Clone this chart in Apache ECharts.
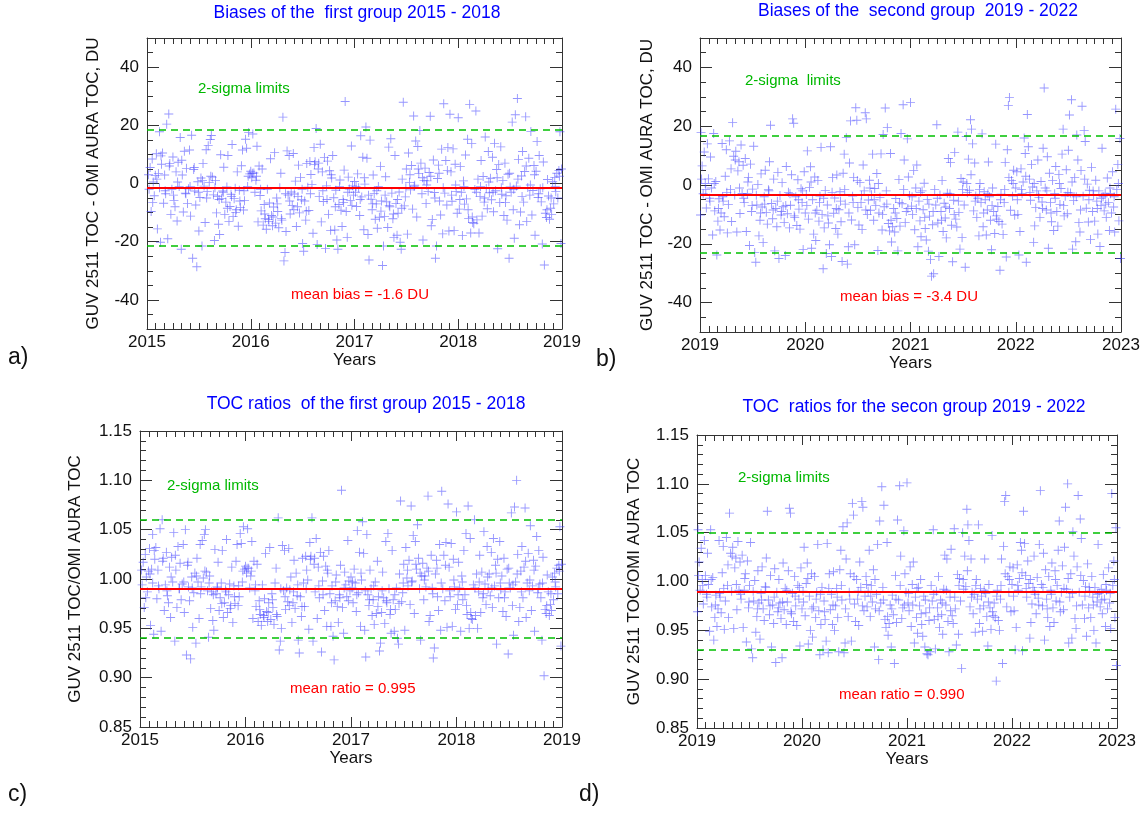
<!DOCTYPE html>
<html>
<head>
<meta charset="utf-8">
<script src="https://cdn.jsdelivr.net/npm/echarts@6/dist/echarts.min.js"></script>
<style>
html,body{margin:0;padding:0;background:#fff;}
#chart{width:1143px;height:814px;}
</style>
</head>
<body>
<div id="chart"></div>
<script>
// ---------- DATA ----------
// Panel a: bias GUV - OMI (DU), first group
const aData = [
[2015.02,-2.0],[2015.03,5.5],[2015.04,-9.6],[2015.05,8.4],[2015.06,0.5],[2015.07,-4.2],[2015.08,2.8],[2015.09,10.2],[2015.10,-15.6],
[2015.11,3.4],[2015.12,17.8],[2015.12,-1.5],[2015.13,-20.2],[2015.14,6.6],[2015.15,10.5],[2015.16,-6.8],[2015.17,2.9],[2015.18,-3.5],[2015.19,20.4],[2015.20,-19.0],
[2015.21,23.9],[2015.22,6.9],[2015.23,-10.6],[2015.24,-2.0],[2015.25,9.1],[2015.26,-5.8],[2015.27,-8.0],[2015.28,4.0],[2015.29,-12.9],[2015.30,7.3],
[2015.31,-1.0],[2015.32,15.8],[2015.33,-22.6],[2015.34,2.9],[2015.35,-9.8],[2015.36,11.1],[2015.37,-3.3],[2015.38,5.2],[2015.39,-6.9],[2015.40,-1.8],
[2015.41,11.5],[2015.42,-11.2],[2015.43,16.6],[2015.44,-25.7],[2015.45,4.8],[2015.46,-2.6],[2015.47,-7.4],[2015.48,-28.6],[2015.49,0.6],[2015.50,-16.3],
[2015.51,-4.8],[2015.52,1.9],[2015.53,-21.5],[2015.54,6.9],[2015.55,-0.9],[2015.56,-13.4],[2015.57,11.6],[2015.58,-2.8],[2015.59,13.0],[2015.60,0.4],
[2015.61,15.1],[2015.62,16.5],[2015.63,2.2],[2015.64,-3.9],[2015.65,-19.6],[2015.66,1.0],[2015.67,-10.1],[2015.68,-4.4],[2015.69,-14.0],[2015.70,-17.5],
[2015.71,9.9],[2015.72,-5.1],[2015.73,-2.6],[2015.74,5.6],[2015.75,-10.6],[2015.76,-6.4],[2015.77,-1.2],[2015.78,9.6],[2015.79,-13.0],[2015.80,-7.9],
[2015.81,-3.7],[2015.82,13.4],[2015.83,-11.3],[2015.84,-5.2],[2015.85,-1.6],[2015.86,-9.0],[2015.87,4.0],[2015.88,-14.7],[2015.89,-2.3],[2015.90,-8.2],
[2015.91,6.1],[2015.92,11.5],[2015.93,-9.1],[2015.94,-5.9],[2015.95,15.2],[2015.96,12.1],[2015.97,-1.0],[2015.98,17.5],[2015.99,3.3],[2016.00,4.2],
[2016.01,2.0],[2016.02,17.0],[2016.03,3.6],[2016.04,-3.0],[2016.05,1.1],[2016.06,12.8],[2016.07,-13.2],[2016.08,6.0],[2016.09,-4.1],[2016.10,-9.4],
[2016.11,5.0],[2016.12,-14.3],[2016.13,-7.2],[2016.14,-12.1],[2016.15,-15.7],[2016.16,-2.0],[2016.17,-12.4],[2016.18,-6.7],[2016.19,8.5],[2016.20,-11.0],
[2016.21,-14.5],[2016.22,-8.1],[2016.23,10.6],[2016.24,-13.6],[2016.25,-5.0],[2016.26,-9.6],[2016.27,-15.2],[2016.28,-1.5],[2016.29,3.5],[2016.30,-12.6],
[2016.31,22.8],[2016.32,-26.6],[2016.33,-23.7],[2016.34,-16.5],[2016.35,11.2],[2016.36,-4.0],[2016.37,9.6],[2016.38,-10.5],[2016.39,-2.9],[2016.40,-7.6],
[2016.41,10.3],[2016.42,-3.6],[2016.43,0.8],[2016.44,-14.8],[2016.45,-8.0],[2016.46,6.3],[2016.47,-10.1],[2016.48,2.1],[2016.49,-5.6],[2016.50,-20.6],
[2016.51,-23.3],[2016.52,-6.0],[2016.53,-12.6],[2016.54,6.9],[2016.55,-1.3],[2016.56,-9.3],[2016.57,7.6],[2016.58,3.1],[2016.59,-0.4],[2016.60,-17.1],
[2016.61,12.4],[2016.62,7.5],[2016.63,18.9],[2016.64,-21.0],[2016.65,5.0],[2016.66,-4.5],[2016.67,13.5],[2016.68,-13.2],[2016.69,4.0],[2016.70,-6.2],
[2016.71,8.9],[2016.72,-22.3],[2016.73,-0.8],[2016.74,7.7],[2016.75,-10.6],[2016.76,4.4],[2016.77,-16.1],[2016.78,1.9],[2016.79,9.6],[2016.80,-4.9],
[2016.81,-16.0],[2016.82,-2.3],[2016.83,-19.4],[2016.84,-22.6],[2016.85,-7.2],[2016.86,1.2],[2016.87,-9.2],[2016.88,-14.8],[2016.89,-5.5],[2016.90,4.6],
[2016.91,28.2],[2016.92,-9.6],[2016.93,-18.5],[2016.94,2.2],[2016.95,-1.9],[2016.96,-5.9],[2016.97,12.9],[2016.98,-0.8],[2016.99,-4.0],[2017.00,0.7],
[2017.01,-3.0],[2017.02,-7.9],[2017.03,3.3],[2017.04,-1.5],[2017.05,-11.0],[2017.06,16.4],[2017.07,-4.6],[2017.08,9.0],[2017.09,-15.9],[2017.10,-0.2],
[2017.11,19.4],[2017.12,8.7],[2017.13,-17.5],[2017.14,-26.3],[2017.15,14.9],[2017.16,-5.4],[2017.17,-9.0],[2017.18,2.9],[2017.19,-3.4],[2017.20,-12.3],
[2017.21,-7.0],[2017.22,-15.4],[2017.23,-1.0],[2017.24,-11.6],[2017.25,5.9],[2017.26,-6.0],[2017.27,-28.2],[2017.28,-21.5],[2017.29,-11.4],[2017.30,2.3],
[2017.31,-6.3],[2017.32,-15.1],[2017.33,12.5],[2017.34,-8.0],[2017.35,15.4],[2017.36,-3.3],[2017.37,-12.1],[2017.38,-18.5],[2017.39,9.6],[2017.40,-6.9],
[2017.41,-17.8],[2017.42,-10.2],[2017.43,-2.9],[2017.44,-20.2],[2017.45,-22.6],[2017.46,1.5],[2017.47,27.9],[2017.48,-7.7],[2017.49,-4.6],[2017.50,5.0],
[2017.51,-17.4],[2017.52,10.5],[2017.53,0.4],[2017.54,-2.2],[2017.55,6.2],[2017.56,-8.8],[2017.57,23.2],[2017.58,-0.6],[2017.59,14.6],[2017.60,-11.5],
[2017.61,12.7],[2017.62,3.4],[2017.63,18.2],[2017.64,7.0],[2017.65,-3.5],[2017.66,-19.4],[2017.67,1.0],[2017.68,5.3],[2017.69,-6.9],[2017.70,0.9],
[2017.71,-2.7],[2017.72,3.8],[2017.73,23.1],[2017.74,-14.5],[2017.75,-12.4],[2017.76,8.1],[2017.77,-3.1],[2017.78,-25.7],[2017.79,-21.5],[2017.80,1.7],
[2017.81,6.3],[2017.82,-6.0],[2017.83,-10.8],[2017.84,11.8],[2017.85,-17.3],[2017.86,27.4],[2017.87,-3.3],[2017.88,7.9],[2017.89,-7.4],[2017.90,12.4],
[2017.91,-16.3],[2017.92,23.8],[2017.93,4.0],[2017.94,-6.1],[2017.95,11.9],[2017.96,-16.2],[2017.97,6.6],[2017.98,-2.8],[2017.99,-10.2],[2018.00,22.6],
[2018.01,-8.8],[2018.02,5.8],[2018.03,-3.0],[2018.04,-17.9],[2018.05,0.9],[2018.06,-7.1],[2018.07,9.8],[2018.08,-5.3],[2018.09,15.2],[2018.10,-12.0],
[2018.11,27.2],[2018.12,-17.0],[2018.13,13.7],[2018.14,-13.4],[2018.15,-13.8],[2018.16,-2.1],[2018.17,24.9],[2018.18,-12.5],[2018.19,1.5],[2018.20,-17.0],
[2018.21,-4.5],[2018.22,7.9],[2018.23,-11.2],[2018.24,2.4],[2018.25,-6.4],[2018.26,16.0],[2018.27,-1.7],[2018.28,-8.7],[2018.29,11.0],[2018.30,-3.2],
[2018.31,1.8],[2018.32,-5.6],[2018.33,9.0],[2018.34,-9.7],[2018.35,13.8],[2018.36,-2.5],[2018.37,4.8],[2018.38,-22.4],[2018.39,6.5],[2018.40,-6.5],
[2018.41,12.6],[2018.42,-3.7],[2018.43,1.0],[2018.44,-11.0],[2018.45,7.0],[2018.46,-4.2],[2018.47,-12.6],[2018.48,3.2],[2018.49,-25.7],[2018.50,-1.2],
[2018.51,-3.0],[2018.52,21.1],[2018.53,-9.0],[2018.54,-18.8],[2018.55,23.6],[2018.56,-0.9],[2018.57,29.2],[2018.58,8.3],[2018.59,-14.2],[2018.60,-9.8],
[2018.61,2.6],[2018.62,11.0],[2018.63,-6.4],[2018.64,4.1],[2018.65,22.9],[2018.66,-13.1],[2018.67,-1.4],[2018.68,8.7],[2018.69,-4.0],[2018.70,17.9],
[2018.71,-10.8],[2018.72,-2.4],[2018.73,6.2],[2018.74,-17.8],[2018.75,4.2],[2018.76,14.4],[2018.77,-4.8],[2018.78,9.6],[2018.79,-1.8],[2018.80,-6.3],
[2018.81,-20.8],[2018.82,7.4],[2018.83,-28.0],[2018.84,-10.2],[2018.85,-11.7],[2018.86,1.4],[2018.87,-4.3],[2018.88,-12.3],[2018.89,-8.5],[2018.90,-10.6],
[2018.91,0.6],[2018.92,-7.0],[2018.93,2.1],[2018.94,-2.8],[2018.95,3.5],[2018.96,-5.0],[2018.97,4.5],[2018.98,17.8],[2018.99,-20.6],[2018.995,5.0],
[2015.015,3.0],[2015.055,-6.5],[2015.095,1.5],[2015.135,9.5],[2015.175,-2.5],[2015.215,6.0],[2015.255,-4.0],[2015.295,0.5],[2015.335,8.0],[2015.375,-3.5],[2015.415,-1.0],[2015.455,5.5],[2015.495,-3.0],[2015.535,1.0],[2015.575,-5.0],[2015.615,2.5],[2015.655,-1.5],[2015.695,-5.5],[2015.735,-3.0],[2015.775,-8.5],[2015.815,-4.5],[2015.855,-10.0],[2015.895,-6.0],[2015.935,-2.5],[2015.975,2.5],
[2016.015,3.5],[2016.055,2.5],[2016.095,-2.0],[2016.135,-10.5],[2016.175,-13.0],[2016.215,-11.5],[2016.255,-7.0],[2016.295,-12.0],[2016.335,-3.5],[2016.375,-6.0],[2016.415,-9.0],[2016.455,-4.5],[2016.495,-2.0],[2016.535,-9.5],[2016.575,-3.5],[2016.615,6.5],[2016.655,7.0],[2016.695,-2.5],[2016.735,-5.5],[2016.775,3.0],[2016.815,-8.0],[2016.855,-1.0],[2016.895,-6.5],[2016.935,-3.0],[2016.975,-7.5],
[2017.015,-1.0],[2017.055,-5.5],[2017.095,2.0],[2017.135,-4.0],[2017.175,-7.0],[2017.215,-2.5],[2017.255,-9.5],[2017.295,-4.0],[2017.335,-7.5],[2017.375,-10.5],[2017.415,-5.5],[2017.455,-8.5],[2017.495,-1.5],[2017.535,3.0],[2017.575,-1.0],[2017.615,5.0],[2017.655,2.0],[2017.695,-0.5],[2017.735,2.5],[2017.775,-5.0],[2017.815,3.5],[2017.855,-1.5],[2017.895,4.5],[2017.935,-4.0],[2017.975,-0.5],
[2018.015,-5.5],[2018.055,-1.0],[2018.095,-9.0],[2018.135,-11.5],[2018.175,-3.0],[2018.215,-1.0],[2018.255,-5.0],[2018.295,0.5],[2018.335,-3.0],[2018.375,2.0],[2018.415,-1.5],[2018.455,-6.5],[2018.495,3.5],[2018.535,-2.0],[2018.575,1.5],[2018.615,-4.5],[2018.655,6.0],[2018.695,-0.5],[2018.735,3.0],[2018.775,-3.5],[2018.815,-1.5],[2018.855,-9.0],[2018.895,-5.0],[2018.935,-1.0],[2018.975,2.5]
];
// Panel b: bias GUV - OMI (DU), second group
const bData = [
[2019.005,-10.2],[2019.01,17.8],[2019.02,6.5],[2019.03,-3.0],[2019.04,11.2],[2019.05,0.5],[2019.06,-7.8],[2019.07,14.0],[2019.08,2.1],[2019.09,-4.5],[2019.10,9.5],
[2019.11,-1.0],[2019.12,-17.0],[2019.13,17.5],[2019.14,-8.8],[2019.15,1.2],[2019.16,-23.8],[2019.17,-12.3],[2019.18,-4.7],[2019.19,-15.3],[2019.20,-9.5],
[2019.21,14.1],[2019.22,-5.5],[2019.23,-10.8],[2019.24,3.0],[2019.25,12.0],[2019.26,-16.3],[2019.27,-6.6],[2019.28,15.0],[2019.29,-1.5],[2019.30,-12.4],
[2019.31,21.2],[2019.32,9.8],[2019.33,-3.4],[2019.34,11.5],[2019.35,-16.0],[2019.36,4.8],[2019.37,7.9],[2019.38,-9.7],[2019.39,13.6],[2019.40,-2.9],
[2019.41,6.7],[2019.42,-6.0],[2019.43,9.0],[2019.44,-15.8],[2019.45,-3.0],[2019.46,2.6],[2019.47,-20.6],[2019.48,7.1],[2019.49,-9.0],[2019.50,-1.4],
[2019.51,13.2],[2019.52,-23.0],[2019.53,-26.3],[2019.54,-6.8],[2019.55,0.2],[2019.56,-17.3],[2019.57,-12.0],[2019.58,3.8],[2019.59,-7.5],[2019.60,-19.6],
[2019.61,-4.0],[2019.62,5.0],[2019.63,-9.3],[2019.64,-13.3],[2019.65,-1.6],[2019.66,7.9],[2019.67,20.3],[2019.68,-6.3],[2019.69,-11.5],[2019.70,2.0],
[2019.71,-22.4],[2019.72,-8.0],[2019.73,-14.2],[2019.74,4.3],[2019.75,-25.0],[2019.76,-3.6],[2019.77,-10.2],[2019.78,0.8],[2019.79,-7.4],[2019.80,-12.7],
[2019.81,-24.0],[2019.82,6.3],[2019.83,-9.8],[2019.84,-2.5],[2019.85,-14.6],[2019.86,-6.9],[2019.87,3.5],[2019.88,22.5],[2019.89,21.0],[2019.90,-11.0],
[2019.91,-4.0],[2019.92,-13.8],[2019.93,1.8],[2019.94,-8.2],[2019.95,-15.0],[2019.96,-1.3],[2019.97,-6.0],[2019.98,-21.9],[2019.99,4.5],[2020.00,-9.5],
[2020.01,-3.2],[2020.02,11.6],[2020.03,-11.6],[2020.04,-0.8],[2020.05,6.2],[2020.06,-21.5],[2020.07,-5.0],[2020.08,-16.7],[2020.09,2.7],[2020.10,-18.9],
[2020.11,-8.6],[2020.12,1.5],[2020.13,-12.3],[2020.14,-3.8],[2020.15,12.8],[2020.16,-10.0],[2020.17,-28.5],[2020.18,-14.6],[2020.19,-1.9],[2020.20,-23.3],
[2020.21,-6.8],[2020.22,-12.9],[2020.23,-20.3],[2020.24,13.0],[2020.25,-24.3],[2020.26,2.5],[2020.27,-9.6],[2020.28,-4.4],[2020.29,-14.8],[2020.30,3.4],
[2020.31,-16.7],[2020.32,-8.4],[2020.33,-2.3],[2020.34,-12.5],[2020.35,-26.0],[2020.36,4.0],[2020.37,10.5],[2020.38,-6.5],[2020.39,16.1],[2020.40,-26.9],
[2020.41,-21.0],[2020.42,7.5],[2020.43,21.8],[2020.44,-11.9],[2020.45,-3.8],[2020.46,2.6],[2020.47,-20.3],[2020.48,26.3],[2020.49,22.0],[2020.50,-7.7],
[2020.51,-13.6],[2020.52,0.8],[2020.53,-6.0],[2020.54,-15.1],[2020.55,6.8],[2020.56,-2.0],[2020.57,24.6],[2020.58,22.5],[2020.59,-10.0],[2020.60,-5.1],
[2020.61,1.6],[2020.62,-8.6],[2020.63,-3.3],[2020.64,10.5],[2020.65,-12.0],[2020.66,-1.2],[2020.67,-7.0],[2020.68,3.9],[2020.69,-22.3],[2020.70,-9.5],
[2020.71,-4.2],[2020.72,10.6],[2020.73,-15.3],[2020.74,17.2],[2020.75,-7.4],[2020.76,26.2],[2020.77,-2.0],[2020.78,19.5],[2020.79,-13.1],[2020.80,-15.6],
[2020.81,10.7],[2020.82,-19.4],[2020.83,-14.2],[2020.84,-8.0],[2020.85,-16.0],[2020.86,-4.6],[2020.87,-11.4],[2020.88,-22.4],[2020.89,1.9],[2020.90,-14.0],
[2020.91,17.5],[2020.92,-6.4],[2020.93,27.3],[2020.94,8.5],[2020.95,-12.8],[2020.96,-9.0],[2020.97,15.7],[2020.98,2.7],[2020.99,-3.6],[2021.00,28.1],
[2021.01,-7.2],[2021.02,-10.0],[2021.03,4.9],[2021.04,-15.2],[2021.05,-1.0],[2021.06,6.8],[2021.07,-21.0],[2021.08,-5.5],[2021.09,-12.2],[2021.10,-17.6],
[2021.11,-2.0],[2021.12,-8.4],[2021.13,0.6],[2021.14,-14.8],[2021.15,-18.7],[2021.16,-4.9],[2021.17,-22.5],[2021.18,-10.6],[2021.19,-25.3],[2021.20,-31.0],
[2021.21,-13.5],[2021.22,-30.2],[2021.23,-1.5],[2021.24,-6.8],[2021.25,20.5],[2021.26,-12.9],[2021.27,-24.3],[2021.28,-3.4],[2021.29,-9.0],[2021.30,1.5],
[2021.31,-15.8],[2021.32,-6.2],[2021.33,-11.2],[2021.34,-18.0],[2021.35,-2.8],[2021.36,9.0],[2021.37,-8.0],[2021.38,7.6],[2021.39,-13.7],[2021.40,-26.1],
[2021.41,-5.2],[2021.42,11.1],[2021.43,-11.6],[2021.44,-14.3],[2021.45,18.0],[2021.46,-9.3],[2021.47,-21.8],[2021.48,2.2],[2021.49,-17.9],[2021.50,1.0],
[2021.51,-6.8],[2021.52,-28.0],[2021.53,16.5],[2021.54,-2.6],[2021.55,8.8],[2021.56,-1.8],[2021.57,22.2],[2021.58,19.0],[2021.59,14.0],[2021.60,-8.8],
[2021.61,7.5],[2021.62,-3.7],[2021.63,-11.0],[2021.64,-4.5],[2021.65,-17.3],[2021.66,0.5],[2021.67,-6.0],[2021.68,17.4],[2021.69,-14.2],[2021.70,-2.3],
[2021.71,-5.0],[2021.72,-17.0],[2021.73,-8.5],[2021.74,7.8],[2021.75,-4.0],[2021.76,-12.0],[2021.77,-22.0],[2021.78,-1.0],[2021.79,-9.0],[2021.80,-16.5],
[2021.81,13.9],[2021.82,-11.6],[2021.83,-7.3],[2021.84,-12.4],[2021.85,-29.0],[2021.86,-3.1],[2021.87,-13.3],[2021.88,-16.8],[2021.89,-6.0],[2021.90,7.7],
[2021.91,-24.5],[2021.92,12.0],[2021.93,27.0],[2021.94,29.8],[2021.95,-8.6],[2021.96,1.5],[2021.97,-3.8],[2021.98,5.0],[2021.99,-10.3],[2022.00,-1.0],
[2022.01,4.5],[2022.02,-10.0],[2022.03,-23.8],[2022.04,-15.8],[2022.05,5.5],[2022.06,-3.0],[2022.07,1.0],[2022.08,16.0],[2022.09,10.7],[2022.10,-26.3],
[2022.11,24.0],[2022.12,13.0],[2022.13,2.0],[2022.14,-5.2],[2022.15,7.0],[2022.16,-0.7],[2022.17,-19.5],[2022.18,-13.9],[2022.19,-7.7],[2022.20,-2.0],
[2022.21,8.5],[2022.22,-4.2],[2022.23,-11.0],[2022.24,1.2],[2022.25,-5.8],[2022.26,12.5],[2022.27,33.0],[2022.28,-1.0],[2022.29,-8.5],[2022.30,9.6],
[2022.31,-21.5],[2022.32,4.0],[2022.33,-6.0],[2022.34,-12.5],[2022.35,1.5],[2022.36,-15.5],[2022.37,-3.0],[2022.38,6.3],[2022.39,-9.0],[2022.40,-14.0],
[2022.41,3.6],[2022.42,-6.6],[2022.43,-1.2],[2022.44,10.5],[2022.45,19.0],[2022.46,-10.5],[2022.47,-3.8],[2022.48,5.2],[2022.49,-9.8],[2022.50,11.8],
[2022.51,23.8],[2022.52,-2.7],[2022.53,29.0],[2022.54,-21.8],[2022.55,-5.3],[2022.56,2.5],[2022.57,-19.3],[2022.58,17.0],[2022.59,8.5],[2022.60,-12.8],
[2022.61,-16.0],[2022.62,4.9],[2022.63,26.8],[2022.64,-3.8],[2022.65,18.5],[2022.66,14.8],[2022.67,-7.9],[2022.68,0.3],[2022.69,-12.6],[2022.70,-1.8],
[2022.71,-18.5],[2022.72,6.0],[2022.73,-9.0],[2022.74,-3.5],[2022.75,-12.3],[2022.76,1.6],[2022.77,-5.5],[2022.78,-16.7],[2022.79,-2.0],[2022.80,-20.9],
[2022.81,-7.0],[2022.82,12.5],[2022.83,-4.0],[2022.84,-8.8],[2022.85,-2.8],[2022.86,-11.0],[2022.87,2.4],[2022.88,-6.0],[2022.89,-15.5],[2022.90,-3.0],
[2022.91,-9.5],[2022.92,4.5],[2022.93,-7.5],[2022.94,-16.0],[2022.95,25.8],[2022.96,-1.5],[2022.97,7.0],[2022.98,-12.2],[2022.99,15.8],[2022.995,-25.0],
[2019.015,2.0],[2019.055,-1.5],[2019.095,-5.5],[2019.135,0.5],[2019.175,-8.0],[2019.215,-4.0],[2019.255,-2.5],[2019.295,5.5],[2019.335,8.5],[2019.375,-1.0],[2019.415,-4.5],[2019.455,1.0],[2019.495,-7.0],[2019.535,-3.5],[2019.575,-9.5],[2019.615,-6.5],[2019.655,-2.0],[2019.695,-8.5],[2019.735,-5.5],[2019.775,-9.0],[2019.815,-7.0],[2019.855,-3.0],[2019.895,-10.5],[2019.935,-5.0],[2019.975,-2.0],
[2020.015,-7.0],[2020.055,1.0],[2020.095,-9.5],[2020.135,-6.0],[2020.175,-4.5],[2020.215,-10.5],[2020.255,-2.5],[2020.295,-8.0],[2020.335,-5.5],[2020.375,-1.5],[2020.415,-9.5],[2020.455,-6.0],[2020.495,1.5],[2020.535,-3.5],[2020.575,-8.5],[2020.615,-1.0],[2020.655,-5.0],[2020.695,0.5],[2020.735,-10.0],[2020.775,-6.5],[2020.815,-12.0],[2020.855,-9.5],[2020.895,-6.0],[2020.935,-1.5],[2020.975,-8.0],
[2021.015,-4.0],[2021.055,-8.0],[2021.095,-2.5],[2021.135,-11.0],[2021.175,-6.5],[2021.215,-9.0],[2021.255,-4.5],[2021.295,-12.0],[2021.335,-7.5],[2021.375,-3.0],[2021.415,-10.0],[2021.455,-5.5],[2021.495,-1.5],[2021.535,0.5],[2021.575,3.5],[2021.615,-5.5],[2021.655,-1.5],[2021.695,-9.5],[2021.735,-3.0],[2021.775,-7.0],[2021.815,-10.5],[2021.855,-5.0],[2021.895,-1.5],[2021.935,2.5],[2021.975,0.5],
[2022.015,-5.0],[2022.055,-1.5],[2022.095,3.0],[2022.135,-2.5],[2022.175,0.5],[2022.215,-3.5],[2022.255,-8.0],[2022.295,-2.0],[2022.335,-9.5],[2022.375,-4.5],[2022.415,0.5],[2022.455,-7.0],[2022.495,-2.5],[2022.535,1.0],[2022.575,-4.0],[2022.615,-8.5],[2022.655,2.0],[2022.695,-5.0],[2022.735,-2.0],[2022.775,-8.0],[2022.815,-4.5],[2022.855,-6.5],[2022.895,-1.0],[2022.935,-4.0],[2022.975,0.5]
];
// Panel c: ratio GUV / OMI, first group
const cData = [
[2015.02,0.994],[2015.03,1.017],[2015.04,0.971],[2015.05,1.025],[2015.06,1.002],[2015.07,0.987],[2015.08,1.008],[2015.09,1.031],[2015.10,0.953],
[2015.11,1.010],[2015.12,1.045],[2015.12,0.996],[2015.13,0.944],[2015.14,1.020],[2015.15,1.032],[2015.16,0.980],[2015.17,1.009],[2015.18,0.990],[2015.19,1.051],[2015.20,0.947],
[2015.21,1.060],[2015.22,1.021],[2015.23,0.968],[2015.24,0.994],[2015.25,1.027],[2015.26,0.983],[2015.27,0.976],[2015.28,1.012],[2015.29,0.961],[2015.30,1.022],
[2015.31,0.997],[2015.32,1.047],[2015.33,0.937],[2015.34,1.009],[2015.35,0.971],[2015.36,1.033],[2015.37,0.990],[2015.38,1.016],[2015.39,0.979],[2015.40,0.995],
[2015.41,1.035],[2015.42,0.966],[2015.43,1.050],[2015.44,0.923],[2015.45,1.014],[2015.46,0.992],[2015.47,0.978],[2015.48,0.919],[2015.49,1.002],[2015.50,0.951],
[2015.51,0.986],[2015.52,1.006],[2015.53,0.935],[2015.54,1.021],[2015.55,0.997],[2015.56,0.960],[2015.57,1.035],[2015.58,0.992],[2015.59,1.039],[2015.60,1.001],
[2015.61,1.045],[2015.62,1.050],[2015.63,1.007],[2015.64,0.988],[2015.65,0.941],[2015.66,1.003],[2015.67,0.970],[2015.68,0.987],[2015.69,0.958],[2015.70,0.948],
[2015.71,1.030],[2015.72,0.985],[2015.73,0.992],[2015.74,1.017],[2015.75,0.968],[2015.76,0.981],[2015.77,0.996],[2015.78,1.029],[2015.79,0.961],[2015.80,0.976],
[2015.81,0.989],[2015.82,1.040],[2015.83,0.966],[2015.84,0.984],[2015.85,0.995],[2015.86,0.973],[2015.87,1.012],[2015.88,0.956],[2015.89,0.993],[2015.90,0.975],
[2015.91,1.018],[2015.92,1.035],[2015.93,0.973],[2015.94,0.982],[2015.95,1.046],[2015.96,1.036],[2015.97,0.997],[2015.98,1.053],[2015.99,1.010],[2016.00,1.013],
[2016.01,1.006],[2016.02,1.051],[2016.03,1.011],[2016.04,0.991],[2016.05,1.003],[2016.06,1.038],[2016.07,0.960],[2016.08,1.018],[2016.09,0.988],[2016.10,0.972],
[2016.11,1.015],[2016.12,0.957],[2016.13,0.978],[2016.14,0.964],[2016.15,0.953],[2016.16,0.994],[2016.17,0.963],[2016.18,0.980],[2016.19,1.026],[2016.20,0.967],
[2016.21,0.957],[2016.22,0.976],[2016.23,1.032],[2016.24,0.959],[2016.25,0.985],[2016.26,0.971],[2016.27,0.954],[2016.28,0.996],[2016.29,1.011],[2016.30,0.962],
[2016.31,1.062],[2016.32,0.928],[2016.33,0.937],[2016.34,0.950],[2016.35,1.034],[2016.36,0.988],[2016.37,1.029],[2016.38,0.969],[2016.39,0.991],[2016.40,0.977],
[2016.41,1.031],[2016.42,0.989],[2016.43,1.002],[2016.44,0.956],[2016.45,0.976],[2016.46,1.019],[2016.47,0.970],[2016.48,1.006],[2016.49,0.983],[2016.50,0.938],
[2016.51,0.925],[2016.52,0.982],[2016.53,0.962],[2016.54,1.021],[2016.55,0.996],[2016.56,0.972],[2016.57,1.023],[2016.58,1.009],[2016.59,0.999],[2016.60,0.949],
[2016.61,1.037],[2016.62,1.023],[2016.63,1.062],[2016.64,0.937],[2016.65,1.015],[2016.66,0.987],[2016.67,1.041],[2016.68,0.960],[2016.69,1.012],[2016.70,0.981],
[2016.71,1.027],[2016.72,0.926],[2016.73,0.998],[2016.74,1.023],[2016.75,0.968],[2016.76,1.013],[2016.77,0.952],[2016.78,1.006],[2016.79,1.029],[2016.80,0.985],
[2016.81,0.952],[2016.82,0.993],[2016.83,0.942],[2016.84,0.918],[2016.85,0.978],[2016.86,1.004],[2016.87,0.972],[2016.88,0.956],[2016.89,0.984],[2016.90,1.014],
[2016.91,1.090],[2016.92,0.971],[2016.93,0.945],[2016.94,1.007],[2016.95,0.994],[2016.96,0.982],[2016.97,1.039],[2016.98,0.998],[2016.99,0.988],[2017.00,1.002],
[2017.01,0.991],[2017.02,0.976],[2017.03,1.010],[2017.04,0.996],[2017.05,0.967],[2017.06,1.049],[2017.07,0.986],[2017.08,1.027],[2017.09,0.952],[2017.10,0.999],
[2017.11,1.058],[2017.12,1.026],[2017.13,0.948],[2017.14,0.921],[2017.15,1.045],[2017.16,0.984],[2017.17,0.973],[2017.18,1.009],[2017.19,0.990],[2017.20,0.963],
[2017.21,0.979],[2017.22,0.954],[2017.23,0.997],[2017.24,0.965],[2017.25,1.018],[2017.26,0.982],[2017.27,0.927],[2017.28,0.935],[2017.29,0.966],[2017.30,1.007],
[2017.31,0.981],[2017.32,0.955],[2017.33,1.038],[2017.34,0.976],[2017.35,1.046],[2017.36,0.990],[2017.37,0.964],[2017.38,0.945],[2017.39,1.029],[2017.40,0.979],
[2017.41,0.947],[2017.42,0.969],[2017.43,0.991],[2017.44,0.940],[2017.45,0.934],[2017.46,1.005],[2017.47,1.079],[2017.48,0.977],[2017.49,0.986],[2017.50,1.015],
[2017.51,0.948],[2017.52,1.032],[2017.53,1.001],[2017.54,0.993],[2017.55,1.019],[2017.56,0.974],[2017.57,1.074],[2017.58,0.998],[2017.59,1.044],[2017.60,0.965],
[2017.61,1.038],[2017.62,1.010],[2017.63,1.055],[2017.64,1.021],[2017.65,0.990],[2017.66,0.938],[2017.67,1.003],[2017.68,1.016],[2017.69,0.979],[2017.70,1.003],
[2017.71,0.992],[2017.72,1.011],[2017.73,1.084],[2017.74,0.957],[2017.75,0.963],[2017.76,1.024],[2017.77,0.991],[2017.78,0.920],[2017.79,0.930],[2017.80,1.005],
[2017.81,1.019],[2017.82,0.982],[2017.83,0.968],[2017.84,1.035],[2017.85,0.948],[2017.86,1.089],[2017.87,0.990],[2017.88,1.024],[2017.89,0.978],[2017.90,1.037],
[2017.91,0.951],[2017.92,1.076],[2017.93,1.012],[2017.94,0.982],[2017.95,1.036],[2017.96,0.952],[2017.97,1.020],[2017.98,0.992],[2017.99,0.969],[2018.00,1.068],
[2018.01,0.974],[2018.02,1.017],[2018.03,0.991],[2018.04,0.947],[2018.05,1.003],[2018.06,0.979],[2018.07,1.029],[2018.08,0.984],[2018.09,1.046],[2018.10,0.964],
[2018.11,1.074],[2018.12,0.950],[2018.13,1.041],[2018.14,0.960],[2018.15,0.959],[2018.16,0.994],[2018.17,1.060],[2018.18,0.963],[2018.19,1.005],[2018.20,0.950],
[2018.21,0.987],[2018.22,1.024],[2018.23,0.966],[2018.24,1.007],[2018.25,0.981],[2018.26,1.048],[2018.27,0.995],[2018.28,0.974],[2018.29,1.033],[2018.30,0.990],
[2018.31,1.005],[2018.32,0.983],[2018.33,1.027],[2018.34,0.971],[2018.35,1.041],[2018.36,0.993],[2018.37,1.014],[2018.38,0.934],[2018.39,1.020],[2018.40,0.981],
[2018.41,1.038],[2018.42,0.989],[2018.43,1.003],[2018.44,0.967],[2018.45,1.021],[2018.46,0.987],[2018.47,0.962],[2018.48,1.010],[2018.49,0.924],[2018.50,0.996],
[2018.51,0.991],[2018.52,1.067],[2018.53,0.973],[2018.54,0.943],[2018.55,1.073],[2018.56,0.997],[2018.57,1.100],[2018.58,1.025],[2018.59,0.957],[2018.60,0.971],
[2018.61,1.008],[2018.62,1.033],[2018.63,0.981],[2018.64,1.012],[2018.65,1.072],[2018.66,0.961],[2018.67,0.996],[2018.68,1.026],[2018.69,0.988],[2018.70,1.054],
[2018.71,0.968],[2018.72,0.993],[2018.73,1.019],[2018.74,0.947],[2018.75,1.013],[2018.76,1.043],[2018.77,0.986],[2018.78,1.029],[2018.79,0.995],[2018.80,0.981],
[2018.81,0.938],[2018.82,1.022],[2018.83,0.902],[2018.84,0.969],[2018.85,0.965],[2018.86,1.004],[2018.87,0.987],[2018.88,0.963],[2018.89,0.974],[2018.90,0.968],
[2018.91,1.002],[2018.92,0.979],[2018.93,1.006],[2018.94,0.992],[2018.95,1.011],[2018.96,0.985],[2018.97,1.014],[2018.98,1.053],[2018.99,0.932],[2018.995,1.015],
[2015.015,1.009],[2015.055,0.981],[2015.095,1.005],[2015.135,1.029],[2015.175,0.993],[2015.215,1.018],[2015.255,0.988],[2015.295,1.002],[2015.335,1.024],[2015.375,0.990],[2015.415,0.997],[2015.455,1.017],[2015.495,0.991],[2015.535,1.003],[2015.575,0.985],[2015.615,1.008],[2015.655,0.996],[2015.695,0.984],[2015.735,0.991],[2015.775,0.975],[2015.815,0.987],[2015.855,0.970],[2015.895,0.982],[2015.935,0.993],[2015.975,1.008],
[2016.015,1.011],[2016.055,1.008],[2016.095,0.994],[2016.135,0.969],[2016.175,0.961],[2016.215,0.966],[2016.255,0.979],[2016.295,0.964],[2016.335,0.990],[2016.375,0.982],[2016.415,0.973],[2016.455,0.987],[2016.495,0.994],[2016.535,0.972],[2016.575,0.990],[2016.615,1.020],[2016.655,1.021],[2016.695,0.993],[2016.735,0.984],[2016.775,1.009],[2016.815,0.976],[2016.855,0.997],[2016.895,0.981],[2016.935,0.991],[2016.975,0.978],
[2017.015,0.997],[2017.055,0.984],[2017.095,1.006],[2017.135,0.988],[2017.175,0.979],[2017.215,0.993],[2017.255,0.972],[2017.295,0.988],[2017.335,0.978],[2017.375,0.969],[2017.415,0.984],[2017.455,0.975],[2017.495,0.996],[2017.535,1.009],[2017.575,0.997],[2017.615,1.015],[2017.655,1.006],[2017.695,0.999],[2017.735,1.008],[2017.775,0.985],[2017.815,1.011],[2017.855,0.996],[2017.895,1.014],[2017.935,0.988],[2017.975,0.999],
[2018.015,0.984],[2018.055,0.997],[2018.095,0.973],[2018.135,0.966],[2018.175,0.991],[2018.215,0.997],[2018.255,0.985],[2018.295,1.002],[2018.335,0.991],[2018.375,1.006],[2018.415,0.996],[2018.455,0.981],[2018.495,1.011],[2018.535,0.994],[2018.575,1.005],[2018.615,0.987],[2018.655,1.018],[2018.695,0.999],[2018.735,1.009],[2018.775,0.990],[2018.815,0.996],[2018.855,0.973],[2018.895,0.985],[2018.935,0.997],[2018.975,1.008]
];
// Panel d: ratio GUV / OMI, second group
const dData = [
[2019.005,0.969],[2019.01,1.053],[2019.02,1.020],[2019.03,0.991],[2019.04,1.034],[2019.05,1.002],[2019.06,0.977],[2019.07,1.042],[2019.08,1.006],[2019.09,0.987],[2019.10,1.029],
[2019.11,0.997],[2019.12,0.949],[2019.13,1.053],[2019.14,0.974],[2019.15,1.004],[2019.16,0.940],[2019.17,0.963],[2019.18,0.986],[2019.19,0.954],[2019.20,0.972],
[2019.21,1.042],[2019.22,0.984],[2019.23,0.968],[2019.24,1.009],[2019.25,1.036],[2019.26,0.951],[2019.27,0.980],[2019.28,1.045],[2019.29,0.996],[2019.30,0.963],
[2019.31,1.070],[2019.32,1.029],[2019.33,0.990],[2019.34,1.035],[2019.35,0.952],[2019.36,1.014],[2019.37,1.024],[2019.38,0.971],[2019.39,1.041],[2019.40,0.991],
[2019.41,1.020],[2019.42,0.982],[2019.43,1.027],[2019.44,0.953],[2019.45,0.991],[2019.46,1.008],[2019.47,0.938],[2019.48,1.021],[2019.49,0.973],[2019.50,0.996],
[2019.51,1.040],[2019.52,0.931],[2019.53,0.922],[2019.54,0.980],[2019.55,1.001],[2019.56,0.948],[2019.57,0.964],[2019.58,1.011],[2019.59,0.978],[2019.60,0.941],
[2019.61,0.988],[2019.62,1.015],[2019.63,0.972],[2019.64,0.960],[2019.65,0.995],[2019.66,1.024],[2019.67,1.072],[2019.68,0.981],[2019.69,0.966],[2019.70,1.006],
[2019.71,0.933],[2019.72,0.976],[2019.73,0.957],[2019.74,1.013],[2019.75,0.917],[2019.76,0.989],[2019.77,0.969],[2019.78,1.002],[2019.79,0.978],[2019.80,0.962],
[2019.81,0.922],[2019.82,1.019],[2019.83,0.971],[2019.84,0.993],[2019.85,0.956],[2019.86,0.979],[2019.87,1.011],[2019.88,1.075],[2019.89,1.070],[2019.90,0.967],
[2019.91,0.988],[2019.92,0.959],[2019.93,1.005],[2019.94,0.975],[2019.95,0.955],[2019.96,0.996],[2019.97,0.982],[2019.98,0.934],[2019.99,1.014],[2020.00,0.972],
[2020.01,0.990],[2020.02,1.035],[2020.03,0.965],[2020.04,0.998],[2020.05,1.019],[2020.06,0.936],[2020.07,0.985],[2020.08,0.950],[2020.09,1.008],[2020.10,0.943],
[2020.11,0.974],[2020.12,1.005],[2020.13,0.963],[2020.14,0.989],[2020.15,1.038],[2020.16,0.970],[2020.17,0.925],[2020.18,0.956],[2020.19,0.994],[2020.20,0.930],
[2020.21,0.980],[2020.22,0.961],[2020.23,0.939],[2020.24,1.039],[2020.25,0.927],[2020.26,1.008],[2020.27,0.971],[2020.28,0.987],[2020.29,0.956],[2020.30,1.010],
[2020.31,0.950],[2020.32,0.975],[2020.33,0.993],[2020.34,0.963],[2020.35,0.928],[2020.36,1.012],[2020.37,1.032],[2020.38,0.981],[2020.39,1.056],[2020.40,0.927],
[2020.41,0.937],[2020.42,1.023],[2020.43,1.060],[2020.44,0.964],[2020.45,0.989],[2020.46,1.008],[2020.47,0.939],[2020.48,1.080],[2020.49,1.068],[2020.50,0.977],
[2020.51,0.959],[2020.52,1.002],[2020.53,0.982],[2020.54,0.955],[2020.55,1.020],[2020.56,0.994],[2020.57,1.082],[2020.58,1.076],[2020.59,0.970],[2020.60,0.985],
[2020.61,1.005],[2020.62,0.974],[2020.63,0.990],[2020.64,1.032],[2020.65,0.964],[2020.66,0.996],[2020.67,0.979],[2020.68,1.012],[2020.69,0.933],[2020.70,0.972],
[2020.71,0.987],[2020.72,1.038],[2020.73,0.920],[2020.74,1.062],[2020.75,0.978],[2020.76,1.097],[2020.77,0.994],[2020.78,1.078],[2020.79,0.961],[2020.80,0.953],
[2020.81,1.040],[2020.82,0.945],[2020.83,0.957],[2020.84,0.976],[2020.85,0.933],[2020.86,0.986],[2020.87,0.966],[2020.88,0.916],[2020.89,1.006],[2020.90,0.958],
[2020.91,1.063],[2020.92,0.981],[2020.93,1.098],[2020.94,1.026],[2020.95,0.962],[2020.96,0.973],[2020.97,1.052],[2020.98,1.008],[2020.99,0.989],[2021.00,1.101],
[2021.01,0.978],[2021.02,0.970],[2021.03,1.015],[2021.04,0.954],[2021.05,0.997],[2021.06,1.020],[2021.07,0.937],[2021.08,0.984],[2021.09,0.963],[2021.10,0.947],
[2021.11,0.994],[2021.12,0.975],[2021.13,1.002],[2021.14,0.956],[2021.15,0.944],[2021.16,0.985],[2021.17,0.933],[2021.18,0.968],[2021.19,0.926],[2021.20,0.925],
[2021.21,0.960],[2021.22,0.928],[2021.23,0.996],[2021.24,0.980],[2021.25,1.053],[2021.26,0.961],[2021.27,0.931],[2021.28,0.990],[2021.29,0.973],[2021.30,1.005],
[2021.31,0.953],[2021.32,0.981],[2021.33,0.966],[2021.34,0.946],[2021.35,0.992],[2021.36,1.027],[2021.37,0.976],[2021.38,1.023],[2021.39,0.959],[2021.40,0.928],
[2021.41,0.984],[2021.42,1.033],[2021.43,0.965],[2021.44,0.957],[2021.45,1.054],[2021.46,0.972],[2021.47,0.935],[2021.48,1.007],[2021.49,0.946],[2021.50,1.003],
[2021.51,0.980],[2021.52,0.911],[2021.53,1.050],[2021.54,0.992],[2021.55,1.026],[2021.56,0.995],[2021.57,1.074],[2021.58,1.058],[2021.59,1.042],[2021.60,0.974],
[2021.61,1.023],[2021.62,0.989],[2021.63,0.967],[2021.64,0.987],[2021.65,0.948],[2021.66,1.002],[2021.67,0.982],[2021.68,1.058],[2021.69,0.957],[2021.70,0.993],
[2021.71,0.985],[2021.72,0.949],[2021.73,0.975],[2021.74,1.023],[2021.75,0.988],[2021.76,0.964],[2021.77,0.934],[2021.78,0.997],[2021.79,0.973],[2021.80,0.951],
[2021.81,1.047],[2021.82,0.965],[2021.83,0.978],[2021.84,0.963],[2021.85,0.898],[2021.86,0.991],[2021.87,0.960],[2021.88,0.950],[2021.89,0.982],[2021.90,1.023],
[2021.91,0.916],[2021.92,1.036],[2021.93,1.082],[2021.94,1.088],[2021.95,0.974],[2021.96,1.005],[2021.97,0.989],[2021.98,1.015],[2021.99,0.969],[2022.00,0.997],
[2022.01,1.014],[2022.02,0.970],[2022.03,0.930],[2022.04,0.953],[2022.05,1.017],[2022.06,0.991],[2022.07,1.003],[2022.08,1.040],[2022.09,1.032],[2022.10,0.929],
[2022.11,1.072],[2022.12,1.039],[2022.13,1.006],[2022.14,0.984],[2022.15,1.021],[2022.16,0.998],[2022.17,0.942],[2022.18,0.958],[2022.19,0.977],[2022.20,0.994],
[2022.21,1.026],[2022.22,0.987],[2022.23,0.967],[2022.24,1.004],[2022.25,0.983],[2022.26,1.038],[2022.27,1.093],[2022.28,0.997],[2022.29,0.975],[2022.30,1.029],
[2022.31,0.940],[2022.32,1.012],[2022.33,0.982],[2022.34,0.963],[2022.35,1.005],[2022.36,0.954],[2022.37,0.991],[2022.38,1.019],[2022.39,0.973],[2022.40,0.958],
[2022.41,1.011],[2022.42,0.980],[2022.43,0.996],[2022.44,1.032],[2022.45,1.062],[2022.46,0.969],[2022.47,0.989],[2022.48,1.016],[2022.49,0.971],[2022.50,1.035],
[2022.51,1.076],[2022.52,0.992],[2022.53,1.100],[2022.54,0.937],[2022.55,0.984],[2022.56,1.008],[2022.57,0.942],[2022.58,1.051],[2022.59,1.026],[2022.60,0.962],
[2022.61,0.952],[2022.62,1.015],[2022.63,1.088],[2022.64,0.989],[2022.65,1.064],[2022.66,1.044],[2022.67,0.976],[2022.68,1.001],[2022.69,0.962],[2022.70,0.995],
[2022.71,0.944],[2022.72,1.018],[2022.73,0.973],[2022.74,0.990],[2022.75,0.963],[2022.76,1.005],[2022.77,0.984],[2022.78,0.950],[2022.79,0.994],[2022.80,0.937],
[2022.81,0.979],[2022.82,1.038],[2022.83,0.988],[2022.84,0.974],[2022.85,0.992],[2022.86,0.967],[2022.87,1.007],[2022.88,0.982],[2022.89,0.954],[2022.90,0.991],
[2022.91,0.972],[2022.92,1.014],[2022.93,0.978],[2022.94,0.952],[2022.95,1.090],[2022.96,0.996],[2022.97,1.021],[2022.98,0.963],[2022.99,1.055],[2022.995,0.914],
[2019.015,1.006],[2019.055,0.996],[2019.095,0.984],[2019.135,1.002],[2019.175,0.976],[2019.215,0.988],[2019.255,0.993],[2019.295,1.017],[2019.335,1.026],[2019.375,0.997],[2019.415,0.987],[2019.455,1.003],[2019.495,0.979],[2019.535,0.990],[2019.575,0.972],[2019.615,0.981],[2019.655,0.994],[2019.695,0.975],[2019.735,0.984],[2019.775,0.973],[2019.815,0.979],[2019.855,0.991],[2019.895,0.969],[2019.935,0.985],[2019.975,0.994],
[2020.015,0.979],[2020.055,1.003],[2020.095,0.972],[2020.135,0.982],[2020.175,0.987],[2020.215,0.969],[2020.255,0.993],[2020.295,0.976],[2020.335,0.984],[2020.375,0.996],[2020.415,0.972],[2020.455,0.982],[2020.495,1.005],[2020.535,0.990],[2020.575,0.975],[2020.615,0.997],[2020.655,0.985],[2020.695,1.002],[2020.735,0.970],[2020.775,0.981],[2020.815,0.964],[2020.855,0.972],[2020.895,0.982],[2020.935,0.996],[2020.975,0.976],
[2021.015,0.988],[2021.055,0.976],[2021.095,0.993],[2021.135,0.967],[2021.175,0.981],[2021.215,0.973],[2021.255,0.987],[2021.295,0.964],[2021.335,0.978],[2021.375,0.991],[2021.415,0.970],[2021.455,0.984],[2021.495,0.996],[2021.535,1.002],[2021.575,1.011],[2021.615,0.984],[2021.655,0.996],[2021.695,0.972],[2021.735,0.991],[2021.775,0.979],[2021.815,0.969],[2021.855,0.985],[2021.895,0.996],[2021.935,1.008],[2021.975,1.002],
[2022.015,0.985],[2022.055,0.996],[2022.095,1.009],[2022.135,0.993],[2022.175,1.002],[2022.215,0.990],[2022.255,0.976],[2022.295,0.994],[2022.335,0.972],[2022.375,0.987],[2022.415,1.002],[2022.455,0.979],[2022.495,0.993],[2022.535,1.003],[2022.575,0.988],[2022.615,0.975],[2022.655,1.006],[2022.695,0.985],[2022.735,0.994],[2022.775,0.976],[2022.815,0.987],[2022.855,0.981],[2022.895,0.997],[2022.935,0.988],[2022.975,1.002]
];
// Reference lines: [mean, upper 2-sigma, lower 2-sigma]
const aLines = [-1.6, 18.5, -21.4];
const bLines = [-3.4, 16.7, -23.1];
const cLines = [0.995, 1.056, 0.935];
const dLines = [0.990, 1.054, 0.928];
// Tick labels / axis ranges
const biasTicks = [-40, -20, 0, 20, 40];
const biasRange = [-50, 50];
const ratioRange = [0.85, 1.15];
const yearsFirst = [2015, 2019];
const yearsSecond = [2019, 2023];
// Texts
const titles = ['Biases of the  first group 2015 - 2018', 'Biases of the  second group  2019 - 2022',
                'TOC ratios  of the first group 2015 - 2018', 'TOC  ratios for the secon group 2019 - 2022'];
const yNames = ['GUV 2511 TOC - OMI AURA TOC, DU', 'GUV 2511 TOC - OMI AURA TOC, DU',
                'GUV 2511 TOC/OMI AURA TOC', 'GUV 2511 TOC/OMI AURA TOC'];
const sigmaTexts = ['2-sigma limits', '2-sigma  limits', '2-sigma limits', '2-sigma limits'];
const meanTexts = ['mean bias = -1.6 DU', 'mean bias = -3.4 DU', 'mean ratio = 0.995', 'mean ratio = 0.990'];
const panelLetters = ['a)', 'b)', 'c)', 'd)'];

// ---------- LAYOUT ----------
const FONT = "'Liberation Sans', Arial, Helvetica, sans-serif";
const AX = '#333';
const grids = [
  {left: 147, top: 38, width: 415, height: 291},
  {left: 700, top: 38, width: 421, height: 294},
  {left: 140, top: 431, width: 422, height: 296},
  {left: 697, top: 435, width: 420, height: 293}
];
const yNameGaps = [45, 44, 56, 54];

const xAxis = [], yAxis = [], series = [];
const plus = 'path://M0,4.5L10,4.5L10,5.5L0,5.5Z M4.5,0L5.5,0L5.5,10L4.5,10Z';

function addX(gi, range) {
  const base = {
    gridIndex: gi, type: 'value', min: range[0], max: range[1], interval: 1,
    axisLine: {show: true, onZero: false, lineStyle: {color: AX, width: 1}},
    axisTick: {show: true, inside: true, length: 10, lineStyle: {color: AX}},
    minorTick: {show: true, splitNumber: 12, length: 6, lineStyle: {color: AX}},
    splitLine: {show: false}, minorSplitLine: {show: false}
  };
  xAxis.push(Object.assign({}, base, {
    position: 'bottom',
    axisLabel: {show: true, margin: 5, fontSize: 17, color: '#111', fontFamily: FONT, formatter: v => String(v)},
    name: 'Years', nameLocation: 'middle', nameGap: 23,
    nameTextStyle: {fontSize: 17, color: '#111', fontFamily: FONT}
  }));
  const xi = xAxis.length - 1;
  xAxis.push(Object.assign({}, base, {position: 'top', axisLabel: {show: false}}));
  return xi;
}

function addYBias(gi, name, gap) {
  const common = {gridIndex: gi, type: 'value', min: biasRange[0], max: biasRange[1], splitLine: {show: false}};
  yAxis.push(Object.assign({}, common, {
    position: 'left', interval: 10,
    axisLine: {show: true, onZero: false, lineStyle: {color: AX, width: 1}},
    axisTick: {show: true, inside: true, length: 12, customValues: biasTicks, lineStyle: {color: AX}},
    axisLabel: {show: true, customValues: biasTicks, margin: 8, fontSize: 17, color: '#111', fontFamily: FONT,
      formatter: v => String(v)},
    name: name, nameLocation: 'middle', nameGap: gap,
    nameTextStyle: {fontSize: 17, color: '#111', fontFamily: FONT}
  }));
  const yi = yAxis.length - 1;
  yAxis.push(Object.assign({}, common, {position: 'left', interval: 5,
    axisLine: {show: false, onZero: false}, axisLabel: {show: false},
    axisTick: {show: true, inside: true, length: 6, lineStyle: {color: AX}}}));
  yAxis.push(Object.assign({}, common, {position: 'right', interval: 10,
    axisLine: {show: true, onZero: false, lineStyle: {color: AX, width: 1}}, axisLabel: {show: false},
    axisTick: {show: true, inside: true, length: 12, customValues: biasTicks, lineStyle: {color: AX}}}));
  yAxis.push(Object.assign({}, common, {position: 'right', interval: 5,
    axisLine: {show: false, onZero: false}, axisLabel: {show: false},
    axisTick: {show: true, inside: true, length: 6, lineStyle: {color: AX}}}));
  return yi;
}

function addYRatio(gi, name, gap) {
  const common = {gridIndex: gi, type: 'value', min: ratioRange[0], max: ratioRange[1], interval: 0.05,
    splitLine: {show: false}, minorSplitLine: {show: false},
    axisLine: {show: true, onZero: false, lineStyle: {color: AX, width: 1}},
    axisTick: {show: true, inside: true, length: 12, lineStyle: {color: AX}},
    minorTick: {show: true, splitNumber: 5, length: 6, lineStyle: {color: AX}}};
  yAxis.push(Object.assign({}, common, {
    position: 'left',
    axisLabel: {show: true, margin: 8, fontSize: 17, color: '#111', fontFamily: FONT, formatter: v => v.toFixed(2)},
    name: name, nameLocation: 'middle', nameGap: gap,
    nameTextStyle: {fontSize: 17, color: '#111', fontFamily: FONT}
  }));
  const yi = yAxis.length - 1;
  yAxis.push(Object.assign({}, common, {position: 'right', axisLabel: {show: false}}));
  return yi;
}

function addSeries(xi, yi, data, lines) {
  series.push({
    type: 'scatter', xAxisIndex: xi, yAxisIndex: yi, data: data,
    symbol: plus, symbolSize: 9, silent: true,
    itemStyle: {color: 'rgba(60,60,255,0.68)'},
    markLine: {
      silent: true, symbol: 'none', label: {show: false}, animation: false,
      data: [
        {yAxis: lines[0], lineStyle: {color: '#ff0000', width: 2, type: 'solid'}},
        {yAxis: lines[1], lineStyle: {color: '#00c000', width: 1.6, type: [7, 5]}},
        {yAxis: lines[2], lineStyle: {color: '#00c000', width: 1.6, type: [7, 5]}}
      ]
    }
  });
}

const xa = addX(0, yearsFirst), ya = addYBias(0, yNames[0], yNameGaps[0]);
addSeries(xa, ya, aData, aLines);
const xb = addX(1, yearsSecond), yb = addYBias(1, yNames[1], yNameGaps[1]);
addSeries(xb, yb, bData, bLines);
const xc = addX(2, yearsFirst), yc = addYRatio(2, yNames[2], yNameGaps[2]);
addSeries(xc, yc, cData, cLines);
const xd = addX(3, yearsSecond), yd = addYRatio(3, yNames[3], yNameGaps[3]);
addSeries(xd, yd, dData, dLines);

function txt(x, y, text, size, color, align) {
  return {type: 'text', x: x, y: y, silent: true,
    style: {text: text, fill: color, font: size + 'px ' + FONT,
      align: align, verticalAlign: 'middle', textAlign: align, textVerticalAlign: 'middle'}};
}
const graphic = [
  txt(357, 13, titles[0], 17.5, '#0000ff', 'center'),
  txt(918, 11, titles[1], 17.5, '#0000ff', 'center'),
  txt(366, 404, titles[2], 17.5, '#0000ff', 'center'),
  txt(914, 407, titles[3], 17.5, '#0000ff', 'center'),
  txt(198, 89, sigmaTexts[0], 15, '#00b800', 'left'),
  txt(745, 81, sigmaTexts[1], 15, '#00b800', 'left'),
  txt(167, 486, sigmaTexts[2], 15, '#00b800', 'left'),
  txt(738, 478, sigmaTexts[3], 15, '#00b800', 'left'),
  txt(291, 295, meanTexts[0], 15, '#ff0000', 'left'),
  txt(840, 297, meanTexts[1], 15, '#ff0000', 'left'),
  txt(290, 689, meanTexts[2], 15, '#ff0000', 'left'),
  txt(839, 695, meanTexts[3], 15, '#ff0000', 'left'),
  txt(8, 358, panelLetters[0], 23, '#111', 'left'),
  txt(596, 360, panelLetters[1], 23, '#111', 'left'),
  txt(8, 795, panelLetters[2], 23, '#111', 'left'),
  txt(579, 795, panelLetters[3], 23, '#111', 'left')
];

const chart = echarts.init(document.getElementById('chart'), null, {renderer: 'canvas'});
chart.setOption({
  animation: false,
  backgroundColor: '#ffffff',
  textStyle: {fontFamily: FONT},
  grid: grids.map(g => Object.assign({containLabel: false}, g)),
  xAxis: xAxis,
  yAxis: yAxis,
  series: series,
  graphic: graphic
});
</script>
</body>
</html>
